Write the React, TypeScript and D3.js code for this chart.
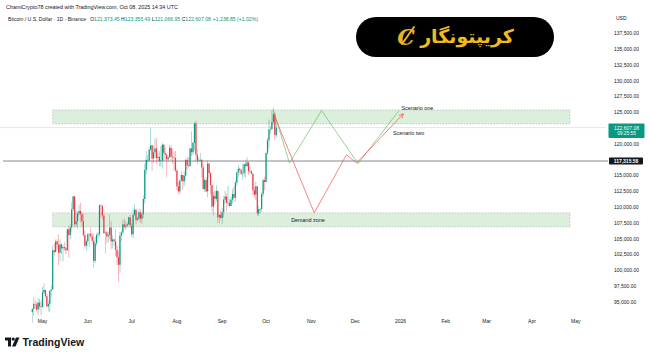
import * as d3 from "d3";

// daily candles starting here, [high, low, close] in thousands of USD; open = previous close
const startDate = "2025-04-24";
const firstOpen = 93.4;
const candles: [number, number, number][] = [
  [94.0, 91.7, 93.9], [95.8, 92.9, 94.7], [95.3, 93.9, 94.6], [95.0, 93.5, 93.8],
  [95.6, 92.9, 94.9], [95.5, 93.9, 94.3], [95.2, 92.9, 94.2],
  // May
  [97.4, 94.1, 96.5], [97.9, 96.3, 96.9], [96.9, 95.7, 95.9], [96.3, 94.2, 94.3],
  [95.2, 93.5, 94.7], [96.9, 93.4, 96.8], [97.7, 95.8, 97.0], [103.9, 96.9, 103.2],
  [104.3, 102.3, 102.9], [104.9, 102.9, 104.6], [104.9, 103.3, 104.1], [105.7, 100.8, 102.8],
  [104.9, 101.5, 104.1], [104.3, 102.6, 103.5], [104.1, 101.4, 103.7], [104.5, 103.1, 103.5],
  [103.7, 102.6, 103.2], [106.6, 103.1, 106.5], [107.1, 102.0, 105.6], [107.3, 104.9, 106.8],
  [110.8, 106.1, 109.7], [111.9, 109.3, 111.7], [111.8, 106.8, 107.3], [109.5, 106.9, 107.8],
  [109.3, 106.6, 109.0], [110.4, 108.7, 109.4], [110.7, 107.6, 108.9], [109.3, 106.8, 107.8],
  [108.9, 105.3, 105.6], [106.3, 103.6, 103.9], [104.9, 103.1, 104.6],
  // Jun
  [105.9, 103.9, 105.7], [105.9, 103.7, 105.8], [106.8, 105.1, 105.4], [106.0, 104.2, 104.7],
  [105.9, 100.4, 101.5], [105.3, 101.1, 104.3], [105.9, 103.9, 105.6], [106.1, 105.1, 105.7],
  [110.5, 105.3, 110.3], [110.4, 108.4, 110.2], [110.4, 108.1, 108.7], [108.9, 105.7, 105.9],
  [106.2, 102.7, 106.0], [106.2, 104.3, 105.4], [106.1, 104.5, 105.6], [108.9, 104.9, 106.8],
  [107.8, 103.4, 104.6], [105.6, 103.5, 104.9], [105.0, 103.9, 104.6], [106.5, 102.3, 103.3],
  [104.0, 100.8, 102.1], [103.0, 98.2, 100.9], [106.1, 99.6, 105.5], [106.3, 104.6, 106.0],
  [108.0, 105.8, 107.3], [108.3, 106.6, 106.9], [107.8, 106.4, 107.1], [107.6, 106.8, 107.3],
  [108.5, 107.2, 108.4], [108.8, 106.7, 107.1],
  // Jul
  [107.5, 105.3, 105.7], [109.8, 105.1, 108.8], [110.5, 108.6, 109.6], [109.8, 107.3, 108.0],
  [108.5, 107.8, 108.2], [109.8, 107.8, 109.2], [109.7, 107.5, 108.2], [109.2, 107.4, 108.9],
  [111.9, 108.3, 111.3], [116.9, 110.6, 115.9], [118.9, 115.2, 117.5], [118.2, 116.9, 117.4],
  [119.5, 117.2, 119.1], [122.6, 118.9, 119.8], [119.9, 115.7, 117.7], [119.7, 117.0, 118.7],
  [120.9, 117.8, 119.3], [120.9, 116.8, 117.8], [118.6, 117.3, 118.0], [118.9, 116.5, 117.3],
  [119.7, 116.4, 117.4], [120.2, 116.1, 119.9], [120.0, 117.3, 118.6], [119.5, 117.4, 118.3],
  [118.5, 114.7, 117.6], [118.3, 117.2, 117.9], [119.8, 117.8, 119.4], [119.8, 117.4, 118.0],
  [119.3, 116.9, 117.9], [118.8, 115.8, 117.8], [118.9, 115.5, 115.8],
  // Aug
  [116.1, 112.7, 113.3], [114.0, 112.0, 112.5], [114.4, 112.1, 114.2], [115.7, 114.1, 115.1],
  [115.1, 112.7, 114.1], [115.7, 113.4, 115.0], [117.6, 114.3, 117.5], [117.9, 115.9, 116.6],
  [117.9, 116.3, 116.5], [119.3, 116.5, 119.3], [122.0, 118.1, 118.7], [120.3, 118.2, 120.2],
  [123.4, 118.9, 123.3], [123.7, 117.2, 118.3], [119.2, 116.8, 117.4], [117.9, 117.2, 117.5],
  [118.6, 117.2, 117.5], [117.6, 114.7, 116.3], [116.8, 112.7, 112.9], [114.6, 112.4, 114.3],
  [114.8, 112.4, 112.5], [117.4, 111.6, 116.9], [117.0, 114.7, 115.4], [115.6, 112.0, 113.5],
  [113.7, 109.3, 110.1], [112.4, 108.7, 111.8], [112.6, 110.4, 111.3], [113.5, 110.9, 112.6],
  [112.6, 107.5, 108.4], [108.9, 107.4, 108.8], [109.5, 108.1, 108.3],
  // Sep
  [109.9, 107.3, 109.2], [111.8, 108.4, 111.2], [112.6, 110.6, 111.7], [112.2, 109.3, 110.7],
  [113.4, 110.2, 110.7], [111.3, 110.0, 110.2], [111.6, 110.2, 111.2], [112.9, 110.6, 112.1],
  [113.3, 110.9, 111.5], [114.3, 110.9, 113.9], [115.6, 113.4, 115.5], [116.7, 114.8, 116.1],
  [116.4, 115.2, 115.9], [116.1, 115.1, 115.3], [116.8, 114.4, 115.4], [117.0, 114.8, 116.8],
  [117.3, 114.7, 116.5], [117.9, 116.4, 117.1], [117.1, 115.1, 115.7], [116.4, 115.4, 115.7],
  [115.9, 115.2, 115.3], [115.4, 111.9, 112.7], [113.3, 111.5, 112.0], [114.0, 111.1, 113.3],
  [113.4, 108.6, 109.0], [110.3, 108.6, 109.7], [109.8, 109.1, 109.7], [112.4, 109.2, 112.1],
  [114.5, 111.6, 114.3], [114.8, 112.7, 114.0],
  // Oct
  [118.6, 113.9, 118.6], [121.0, 118.3, 120.6], [123.9, 119.3, 122.3], [122.9, 121.6, 122.4],
  [125.4, 122.2, 123.5], [125.8, 123.1, 124.7], [125.1, 120.6, 121.4], [123.36, 121.07, 122.6],
];

// zones: [from, to] dates and [top, bottom] prices
const zoneDates = ["2025-05-08", "2026-04-27"];
const supplyZone = [125400, 123200];
const demandZone = [109100, 106900];
const demandLabel = "Demand zone";

// scenario paths drawn on the chart
const scenarioOneDates = ["2025-10-06", "2025-10-17", "2025-11-08", "2025-12-03", "2025-12-31"];
const scenarioOnePrices = [125400, 117000, 125300, 116900, 125300];
const scenarioTwoDates = ["2025-10-06", "2025-11-03", "2025-11-25", "2025-12-02", "2026-01-03"];
const scenarioTwoPrices = [124900, 109100, 118300, 117000, 124800];

const lastPrice = 122607.08;
const lastPriceLabel = "122,607.08";
const countdown = "09:25:55";
const linePrice = 117315.58;
const linePriceLabel = "117,315.58";

const priceTicks = [
  137500, 135000, 132500, 130000, 127500, 125000, 120000, 115000, 112500, 110000,
  107500, 105000, 102500, 100000, 97500, 95000,
];
const monthLabels = ["May", "Jun", "Jul", "Aug", "Sep", "Oct", "Nov", "Dec", "2026", "Feb", "Mar", "Apr", "May"];

const UP = "#089981";
const DOWN = "#f23645";
const TEXT = "#131722";
const FONT = "'Liberation Sans', Arial, sans-serif";

const parse = (s: string) => new Date(s + "T00:00:00Z");

export default function App() {
  const x = d3
    .scaleUtc()
    .domain([parse("2025-05-01"), parse("2026-05-01")])
    .range([42.5, 575.8]);
  const y = d3.scaleLinear().domain([95000, 137500]).range([302, 33.5]);

  const start = parse(startDate);
  const bars = candles.map((c, i) => {
    const open = i === 0 ? firstOpen : candles[i - 1][2];
    return {
      date: d3.utcDay.offset(start, i),
      open: open * 1000,
      high: c[0] * 1000,
      low: c[1] * 1000,
      close: c[2] * 1000,
    };
  });

  const months = d3.utcMonth.range(parse("2025-05-01"), parse("2026-05-02"));
  const fmt = d3.format(",.2f");

  const line = d3
    .line<[string, number]>()
    .x((d) => x(parse(d[0])))
    .y((d) => y(d[1]));
  const one = scenarioOneDates.map((d, i) => [d, scenarioOnePrices[i]] as [string, number]);
  const two = scenarioTwoDates.map((d, i) => [d, scenarioTwoPrices[i]] as [string, number]);

  const zx0 = x(parse(zoneDates[0]));
  const zx1 = x(parse(zoneDates[1]));
  const zone = (z: number[], key: string) => (
    <rect
      key={key}
      x={zx0}
      y={y(z[0])}
      width={zx1 - zx0}
      height={y(z[1]) - y(z[0])}
      fill="rgba(76,175,80,0.2)"
      stroke="#a9a9a9"
      strokeWidth={0.6}
      strokeDasharray="1.5,1.5"
    />
  );

  // red arrow head at the end of scenario two
  const a1 = two[two.length - 2];
  const a2 = two[two.length - 1];
  const ax = x(parse(a2[0]));
  const ay = y(a2[1]);
  const ang = Math.atan2(ay - y(a1[1]), ax - x(parse(a1[0])));
  const head = [ang + Math.PI - 0.45, ang + Math.PI + 0.45].map((t) => [ax + 5 * Math.cos(t), ay + 5 * Math.sin(t)]);

  return (
    <svg width={650} height={352} style={{ display: "block", background: "#fff" }} fontFamily={FONT}>
      <style>{`body{margin:0}`}</style>

      {/* header */}
      <text x={6} y={8.5} fontSize={5.4} fill={TEXT}>
        ChamiCrypto78 created with TradingView.com, Oct 08, 2025 14:34 UTC
      </text>
      <text x={8} y={21} fontSize={5.1} fill={TEXT}>
        <tspan>Bitcoin / U.S. Dollar · 1D · Binance</tspan>
        <tspan dx={4}>O</tspan>
        <tspan fill={UP}>121,373.45</tspan>
        <tspan dx={1.5}>H</tspan>
        <tspan fill={UP}>123,355.49</tspan>
        <tspan dx={1.5}>L</tspan>
        <tspan fill={UP}>121,066.95</tspan>
        <tspan dx={1.5}>C</tspan>
        <tspan fill={UP}>122,607.08</tspan>
        <tspan dx={2} fill={UP}>+1,238.85 (+1.02%)</tspan>
      </text>

      {/* zones */}
      {zone(supplyZone, "supply")}
      {zone(demandZone, "demand")}
      <text x={308} y={y((demandZone[0] + demandZone[1]) / 2)} dy="0.35em" fontSize={5.4} fill={TEXT} textAnchor="middle">
        {demandLabel}
      </text>

      {/* price lines */}
      <line x1={0} x2={606} y1={y(lastPrice)} y2={y(lastPrice)} stroke="#d4d6dc" strokeWidth={0.6} />
      <line x1={3} x2={608} y1={y(linePrice)} y2={y(linePrice)} stroke="#787b86" strokeWidth={0.9} />

      {/* candles */}
      {bars.map((b, i) => {
        const cx = x(b.date);
        const color = b.close >= b.open ? UP : DOWN;
        const top = y(Math.max(b.open, b.close));
        const bot = y(Math.min(b.open, b.close));
        return (
          <g key={i}>
            <line x1={cx} x2={cx} y1={y(b.high)} y2={y(b.low)} stroke={color} strokeWidth={0.5} opacity={0.75} />
            <rect x={cx - 0.6} y={top} width={1.2} height={Math.max(0.5, bot - top)} fill={color} />
          </g>
        );
      })}

      {/* scenarios */}
      <path d={line(one) ?? ""} fill="none" stroke="#6abf69" strokeWidth={0.7} />
      <path d={line(two) ?? ""} fill="none" stroke="#ef5350" strokeWidth={0.7} />
      <polyline
        points={`${head[0][0]},${head[0][1]} ${ax},${ay} ${head[1][0]},${head[1][1]}`}
        fill="none"
        stroke="#ef5350"
        strokeWidth={0.7}
      />
      <text x={401.5} y={110} fontSize={5.4} fill={TEXT}>Scenario one</text>
      <text x={393} y={135} fontSize={5.4} fill={TEXT}>Scenario two</text>

      {/* price axis */}
      <text x={616} y={20} fontSize={5} fill={TEXT}>USD</text>
      {priceTicks.map((t) => (
        <text key={t} x={614} y={y(t)} dy="0.35em" fontSize={5} fill={TEXT}>
          {fmt(t)}
        </text>
      ))}
      <rect x={608.5} y={y(lastPrice) - 4} width={36} height={14.5} rx={1} fill={UP} />
      <text x={626.5} y={y(lastPrice) + 0.2} dy="0.35em" fontSize={5} fill="#fff" textAnchor="middle">
        {lastPriceLabel}
      </text>
      <text x={626.5} y={y(lastPrice) + 6.2} dy="0.35em" fontSize={4.8} fill="#fff" textAnchor="middle">
        {countdown}
      </text>
      <rect x={609} y={y(linePrice) - 3.5} width={34} height={7} rx={1} fill="#131722" />
      <text x={626} y={y(linePrice)} dy="0.35em" fontSize={5} fill="#fff" textAnchor="middle" fontWeight={600}>
        {linePriceLabel}
      </text>

      {/* time axis */}
      {months.map((m, i) => (
        <text key={i} x={x(m)} y={321.5} dy="0.35em" fontSize={5} fill={TEXT} textAnchor="middle">
          {monthLabels[i]}
        </text>
      ))}

      {/* brand badge */}
      <rect x={356} y={17} width={198} height={40} rx={20} fill="#000" />
      <text x={406} y={37} dy="0.35em" fontSize={22} fontStyle="italic" fontWeight={700} fill="#eab320" textAnchor="middle" fontFamily="'DejaVu Serif', serif">
        C
      </text>
      <path d="M402 44 L414 27" stroke="#eab320" strokeWidth={2} strokeLinecap="round" />
      <text x={467} y={36} dy="0.35em" fontSize={19} fontWeight={700} fill="#f0bb1e" textAnchor="middle" fontFamily="'DejaVu Sans', sans-serif">
        کریپتونگار
      </text>

      {/* TradingView logo */}
      <g transform="translate(5,337.5)" fill={TEXT}>
        <path d="M0 0 H6 V9 H3 V3 H0 Z" />
        <circle cx={8.2} cy={1.6} r={1.6} />
        <path d="M11 0 H14.5 L10.5 9 H7 Z" />
      </g>
      <text x={22.5} y={342} dy="0.35em" fontSize={10.5} fontWeight={600} fill={TEXT} fontFamily="'Liberation Sans', Arial, sans-serif">
        TradingView
      </text>
    </svg>
  );
}
